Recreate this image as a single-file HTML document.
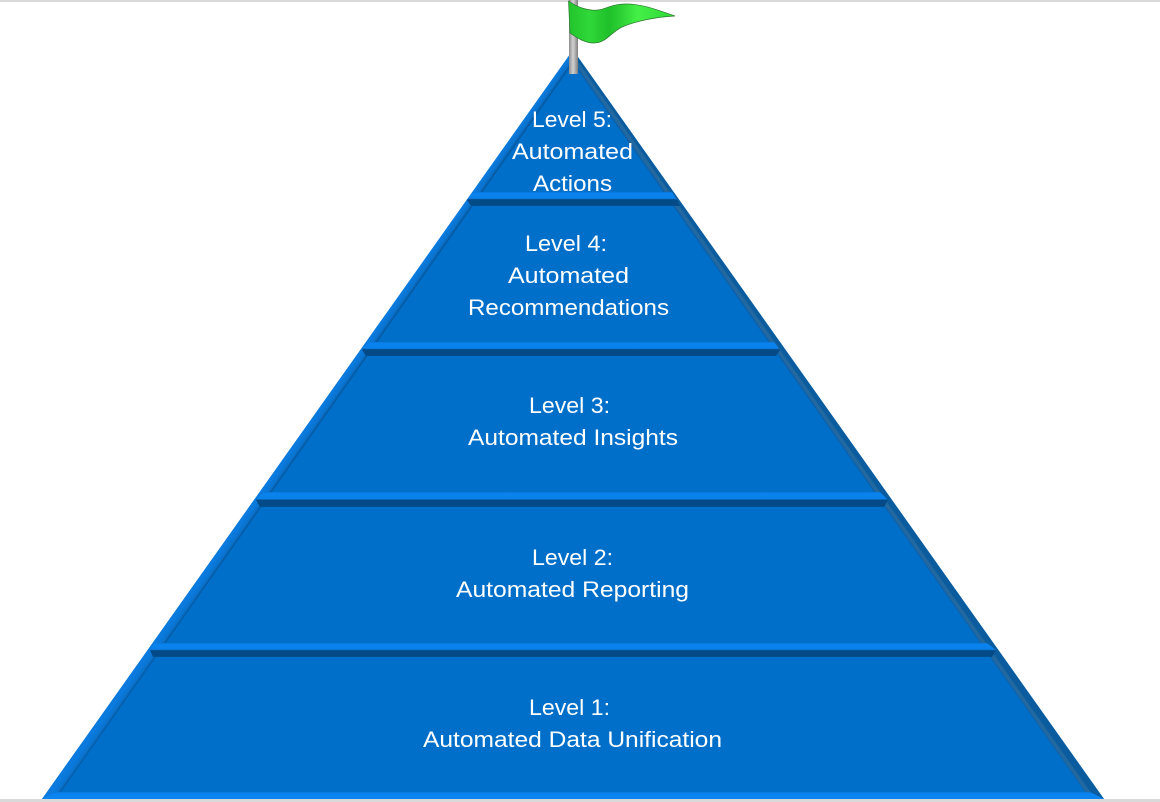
<!DOCTYPE html>
<html>
<head>
<meta charset="utf-8">
<style>
html,body{margin:0;padding:0;background:#fff;width:1160px;height:802px;overflow:hidden}
svg{display:block}
text{font-family:"Liberation Sans",sans-serif;font-size:22.5px;fill:#fff;text-anchor:middle}
</style>
</head>
<body>
<svg width="1160" height="802" viewBox="0 0 1160 802" xmlns="http://www.w3.org/2000/svg">
<defs>
<linearGradient id="pole" x1="0" x2="1" y1="0" y2="0">
<stop offset="0" stop-color="#8c8c8c"/><stop offset=".45" stop-color="#d2d2d2"/><stop offset="1" stop-color="#7f7f7f"/>
</linearGradient>
<linearGradient id="flag" x1="0" x2="1" y1="0" y2="0">
<stop offset="0" stop-color="#22c42c"/><stop offset=".2" stop-color="#30d838"/><stop offset=".38" stop-color="#1fc02a"/><stop offset=".5" stop-color="#2fd236"/><stop offset=".65" stop-color="#44f046"/><stop offset="1" stop-color="#2ed636"/>
</linearGradient>
<linearGradient id="lb" gradientUnits="userSpaceOnUse" x1="573" y1="50" x2="579.700" y2="54.700">
<stop offset="0" stop-color="#0a7ade"/><stop offset=".55" stop-color="#0a72cc"/><stop offset=".85" stop-color="#05589f"/><stop offset="1" stop-color="#006fc9"/>
</linearGradient>
<linearGradient id="rb" gradientUnits="userSpaceOnUse" x1="573" y1="50" x2="566.300" y2="54.700">
<stop offset="0" stop-color="#0a5c9e"/><stop offset=".25" stop-color="#0a5c9e"/><stop offset=".38" stop-color="#22699f"/><stop offset=".7" stop-color="#2268a4"/><stop offset=".85" stop-color="#0a5ea6"/><stop offset="1" stop-color="#006fc9"/>
</linearGradient>
<linearGradient id="bar" x1="0" x2="0" y1="0" y2="1">
<stop offset="0" stop-color="#0878d8"/><stop offset=".12" stop-color="#0a84f0"/><stop offset=".46" stop-color="#0a80e8"/><stop offset=".54" stop-color="#034a86"/><stop offset=".95" stop-color="#034a86"/><stop offset="1" stop-color="#0058a0"/>
</linearGradient>
<linearGradient id="bot" x1="0" x2="0" y1="0" y2="1">
<stop offset="0" stop-color="#0878d8"/><stop offset=".25" stop-color="#0a84f0"/><stop offset="1" stop-color="#0a84f0"/>
</linearGradient>
</defs>
<rect x="0" y="0" width="1160" height="2" fill="#d9d9d9"/>
<rect x="0" y="799" width="1160" height="3" fill="#d9d9d9"/>

<!-- body -->
<polygon points="573,50 1104,799 42,799" fill="#006fc9"/>

<!-- bevels -->
<polygon points="573,50 42,799 56,799 573,64" fill="url(#lb)"/>
<polygon points="573,50 1104,799 1090,799 573,64" fill="url(#rb)"/>

<!-- bars -->
<polygon points="473,192 672,192 677,200 680,206 471,206 467,200" fill="url(#bar)"/>
<polygon points="369,342 774,342 780,350 776,356 366,356 362,350" fill="url(#bar)"/>
<polygon points="264,492 880,492 888,500 884,507 260,507 256,500" fill="url(#bar)"/>
<polygon points="155,643 987,643 996,650 992,657 153,657 150,650" fill="url(#bar)"/>
<polygon points="56,792 1090,792 1104,799 42,799" fill="url(#bot)"/>

<!-- pole and flag -->
<rect x="569" y="0" width="9" height="74" fill="url(#pole)"/>
<path d="M568.500,1 C578,8 590,11 598,10 C606,9 612,4 626,4 C644,4 660,11 675,16 C656,17 636,21 622,27 C610,33 606,43 594,43 C585,43 577,38 570,33 Z" fill="url(#flag)" stroke="#2a7a30" stroke-width=".7"/>

<!-- labels -->
<text x="572" y="127" textLength="80" lengthAdjust="spacingAndGlyphs">Level 5:</text>
<text x="572.500" y="159" textLength="121" lengthAdjust="spacingAndGlyphs">Automated</text>
<text x="572.500" y="191" textLength="79" lengthAdjust="spacingAndGlyphs">Actions</text>
<text x="566" y="251" textLength="82" lengthAdjust="spacingAndGlyphs">Level 4:</text>
<text x="568.500" y="283" textLength="121" lengthAdjust="spacingAndGlyphs">Automated</text>
<text x="568.500" y="315" textLength="201" lengthAdjust="spacingAndGlyphs">Recommendations</text>
<text x="569.500" y="413" textLength="81" lengthAdjust="spacingAndGlyphs">Level 3:</text>
<text x="573" y="445" textLength="210" lengthAdjust="spacingAndGlyphs">Automated Insights</text>
<text x="572.500" y="565" textLength="81" lengthAdjust="spacingAndGlyphs">Level 2:</text>
<text x="572.500" y="597" textLength="233" lengthAdjust="spacingAndGlyphs">Automated Reporting</text>
<text x="569.500" y="715" textLength="81" lengthAdjust="spacingAndGlyphs">Level 1:</text>
<text x="572.500" y="747" textLength="299" lengthAdjust="spacingAndGlyphs">Automated Data Unification</text>
</svg>
</body>
</html>
